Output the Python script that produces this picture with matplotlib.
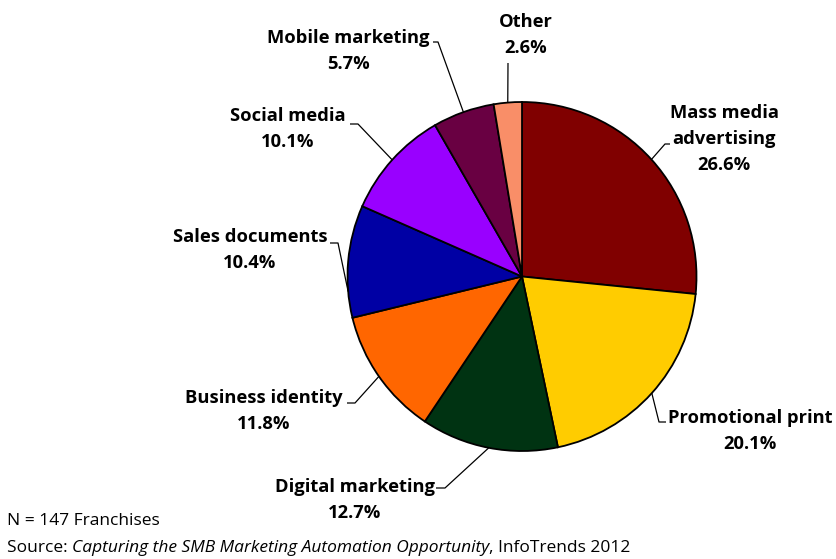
import matplotlib
matplotlib.use("Agg")
import matplotlib.pyplot as plt
import numpy as np

# Marketing spend by category (share of franchises' budget, %)
categories = ["Mass media\nadvertising", "Promotional print", "Digital marketing",
              "Business identity", "Sales documents", "Social media",
              "Mobile marketing", "Other"]
shares = [26.6, 20.1, 12.7, 11.8, 10.4, 10.1, 5.7, 2.6]
colors = ["#800000", "#FFCC00", "#003312", "#FF6600", "#0000A4", "#9900FF",
          "#690042", "#F98E68"]

note_text = "N = 147 Franchises"
source_prefix = "Source: "
source_title = "Capturing the SMB Marketing Automation Opportunity"
source_suffix = ", InfoTrends 2012"

W, H = 836, 559
fig = plt.figure(figsize=(W / 100, H / 100), dpi=100)
ax = fig.add_axes([0, 0, 1, 1])


def Y(py):
    # pixel row (top-down) to data y (bottom-up)
    return H - py


cx, cy, R = 522, 276.5, 174.5

wedges, _ = ax.pie(shares, colors=colors, startangle=90, counterclock=False,
                   center=(cx, Y(cy)), radius=R,
                   wedgeprops=dict(edgecolor="black", linewidth=1.3))
ax.set_xlim(0, W)
ax.set_ylim(0, H)
ax.set_aspect("equal")
ax.axis("off")

FONT = ["Open Sans", "DejaVu Sans"]
LSIZE = 13.2

# label layout: text centre (px), elbow point, horizontal end, anchor angle offset
layout = [
    dict(xy=(724, 139), elbow=(665, 144), end=(670, 144), off=0),
    dict(xy=(750, 431), elbow=(659, 422), end=(666, 422), off=0),
    dict(xy=(355, 500), elbow=(445, 488), end=(436, 488), off=0),
    dict(xy=(264, 411), elbow=(355, 403), end=(347, 403), off=0),
    dict(xy=(250, 250), elbow=(338, 243), end=(330, 243), off=10),
    dict(xy=(288, 129), elbow=(358, 124), end=(350, 124), off=0),
    dict(xy=(348, 51), elbow=(438, 42), end=(433, 42), off=0),
    dict(xy=(526, 35), elbow=(508, 63), end=(508, 63), off=0),
]

for w, name, val, lay in zip(wedges, categories, shares, layout):
    mid = np.deg2rad((w.theta1 + w.theta2) / 2 + lay["off"])
    ex = cx + R * np.cos(mid)
    ey = Y(cy) + R * np.sin(mid)
    xs = [ex, lay["elbow"][0], lay["end"][0]]
    ys = [ey, Y(lay["elbow"][1]), Y(lay["end"][1])]
    ax.plot(xs, ys, color="black", linewidth=0.9, solid_capstyle="butt")
    ax.text(lay["xy"][0], Y(lay["xy"][1]), f"{name}\n{val:.1f}%",
            ha="center", va="center", multialignment="center",
            fontsize=LSIZE, fontweight="bold", family=FONT, linespacing=1.55,
            color="black")

# footnotes
FS = 12.5
ax.text(7, Y(521), note_text, ha="left", va="center", fontsize=FS, family=FONT)
fig.canvas.draw()
renderer = fig.canvas.get_renderer()
x = 7
for piece, style in [(source_prefix, "normal"), (source_title, "italic"),
                     (source_suffix, "normal")]:
    t = ax.text(x, Y(548), piece, ha="left", va="center", fontsize=FS,
                family=FONT, style=style)
    bb = t.get_window_extent(renderer=renderer)
    x = x + bb.width

fig.savefig("out.png", dpi=100)
